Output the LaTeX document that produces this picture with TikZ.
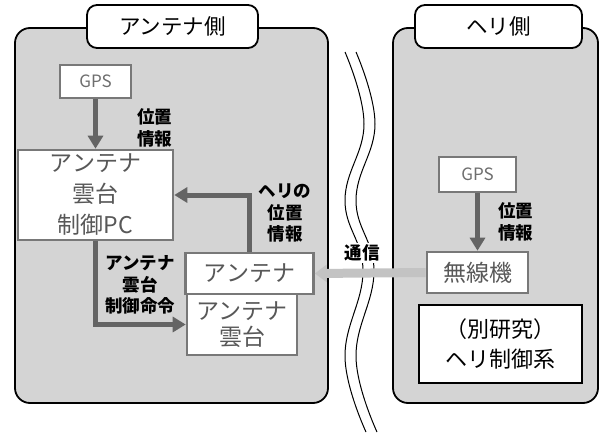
\documentclass[tikz,border=0pt]{standalone}
\usepackage{fontspec}
\newfontfamily\jp{Noto Sans CJK JP}
\usetikzlibrary{arrows.meta}
\definecolor{panelgray}{RGB}{212,212,212}
\definecolor{boxgray}{RGB}{120,120,120}
\definecolor{arrgray}{RGB}{100,100,100}
\definecolor{txtgray}{RGB}{88,88,88}
\definecolor{gpstxt}{RGB}{110,110,110}
\definecolor{commgray}{RGB}{195,195,195}
\tikzset{
  panel/.style={draw=black, line width=1.8pt, fill=panelgray, rounded corners=15pt},
  titlebox/.style={draw=black, line width=1.8pt, fill=white, rounded corners=10pt,
    inner sep=0pt, font=\jp\fontsize{21.5}{26}\selectfont},
  unit/.style={draw=boxgray, line width=2.6pt, fill=white, text=txtgray, inner sep=0pt,
    align=center, font=\jp\fontsize{23}{31}\selectfont},
  gpsbox/.style={unit, text=gpstxt, font=\jp\fontsize{17}{20}\selectfont},
  extbox/.style={draw=black, line width=2.6pt, fill=white, text=black, inner sep=0pt,
    align=center, font=\jp\fontsize{22}{30}\selectfont},
  lbl/.style={inner sep=0pt, align=center, font=\jp\bfseries\fontsize{17.5}{21.5}\selectfont},
  flow/.style={draw=arrgray, line width=5pt, -{Triangle[length=13pt,width=15pt]}},
  comm/.style={draw=commgray, line width=9pt, -{Triangle[length=12pt,width=17pt]}},
  wave/.style={draw=black, line width=1pt}
}
\begin{document}
\begin{tikzpicture}[x=1pt,y=-1pt]
\useasboundingbox (0,0) rectangle (603,434);
% panels
\draw[panel] (15,28) rectangle (328,403);
\draw[panel] (393,28) rectangle (598,403);
\node[titlebox, minimum width=171pt, minimum height=43pt] (tl) at (172.5,26.5) {アンテナ側};
\node[titlebox, minimum width=167pt, minimum height=43pt] (tr) at (498.5,26.5) {ヘリ側};
% wavy break lines
\draw[wave] plot[smooth, tension=0.7] coordinates {(345,52) (364,124) (345,200) (363,271) (345,357) (366,432)};
\draw[wave] plot[smooth, tension=0.7] coordinates {(356,52) (375,124) (356,200) (374,271) (356,357) (377,432)};
% left side boxes
\node[gpsbox, minimum width=71pt, minimum height=33pt] (gpsL) at (95.5,81.5) {GPS};
\node[unit, minimum width=155pt, minimum height=90pt] (pc) at (95.5,195) {アンテナ\\雲台\\制御PC};
\node[unit, minimum width=110pt, minimum height=61pt, font=\jp\fontsize{23}{26}\selectfont] (ptu) at (242,324.5) {アンテナ\\雲台};
\node[unit, minimum width=128pt, minimum height=41pt] (ant) at (249.5,273.5) {アンテナ};
% right side boxes
\node[gpsbox, minimum width=77pt, minimum height=35pt] (gpsR) at (477.5,174.5) {GPS};
\node[unit, minimum width=101pt, minimum height=41pt] (radio) at (477.5,272.5) {無線機};
\node[extbox, minimum width=163pt, minimum height=78pt] (other) at (500.5,344) {（別研究）\\ヘリ制御系};
% arrows
\draw[flow] (gpsL) -- (pc);
\draw[flow] (ant.north) |- (pc.east);
\draw[flow] (pc.south) |- (ptu.west);
\draw[flow] (gpsR) -- (radio);
\draw[comm] (radio.west) -- (ant.east);
% labels
\node[lbl] (l1) at (154.5,128) {位置\\情報};
\node[lbl] (l2) at (285,213) {ヘリの\\位置\\情報};
\node[lbl] (l3) at (140,285) {アンテナ\\雲台\\制御命令};
\node[lbl] (l4) at (515.5,222) {位置\\情報};
\node[lbl, fill=white, inner sep=2pt] (l5) at (362,253) {通信};
\end{tikzpicture}
\end{document}
